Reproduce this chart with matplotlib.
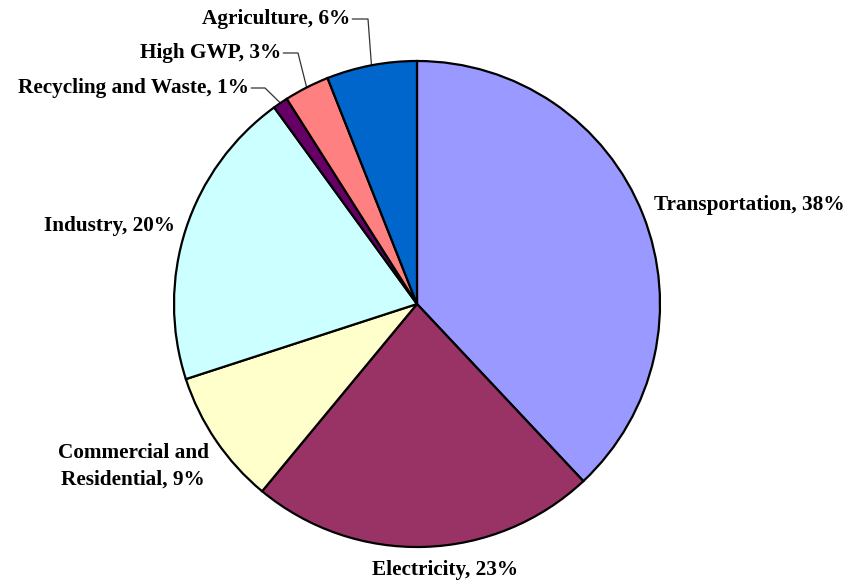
import numpy as np
import matplotlib
matplotlib.use("Agg")
import matplotlib.pyplot as plt

# datos del grafico (porcentajes)
sectores = ["Transportation", "Electricity", "Commercial and\nResidential", "Industry",
            "Recycling and Waste", "High GWP", "Agriculture"]
valores = [38, 23, 9, 20, 1, 3, 6]
colores = ["#9999FF", "#993366", "#FFFFCC", "#CCFFFF", "#660066", "#FF8080", "#0066CC"]

W, H = 863, 581
CX, CY, R = 417, 304, 243  # centro y radio del pastel en pixeles


def px(x, y):
    # pixel de la imagen -> coordenadas de datos (radio del pastel = 1)
    return (x - CX) / R, (CY - y) / R


fig = plt.figure(figsize=(W / 100, H / 100), dpi=100)
ax = fig.add_axes([0, 0, 1, 1])

wedges, _ = ax.pie(valores, colors=colores, startangle=90, counterclock=False,
                   radius=1, center=(0, 0), frame=True,
                   wedgeprops=dict(edgecolor="black", linewidth=1.6))
ax.set_xlim(px(0, 0)[0], px(W, 0)[0])
ax.set_ylim(px(0, H)[1], px(0, 0)[1])
ax.axis("off")

fuente = dict(family="Liberation Serif", fontweight="bold", fontsize=15.3, color="black")

# posicion de las etiquetas: (x, y, alineacion)
pos = [(654, 205, "left"), (445, 570, "center"), (133, 466, "center"), (175, 226, "right"),
       (249, 88, "right"), (281, 53, "right"), (350, 19, "right")]
# codos de las lineas guia para los sectores pequenos
codos = {4: (265, 88), 5: (298, 53), 6: (368, 19)}

for i, w in enumerate(wedges):
    x, y, ha = pos[i]
    tx, ty = px(x, y)
    ax.text(tx, ty, "%s, %d%%" % (sectores[i], valores[i]), ha=ha, va="center",
            multialignment="center", linespacing=1.45, **fuente)
    if i in codos:
        ang = np.deg2rad((w.theta1 + w.theta2) / 2)
        ex, ey = px(*codos[i])
        ax.plot([np.cos(ang), ex, tx + 0.01], [np.sin(ang), ey, ey],
                color="#333333", lw=0.9, zorder=0.5)

fig.savefig("out.png", dpi=100)
